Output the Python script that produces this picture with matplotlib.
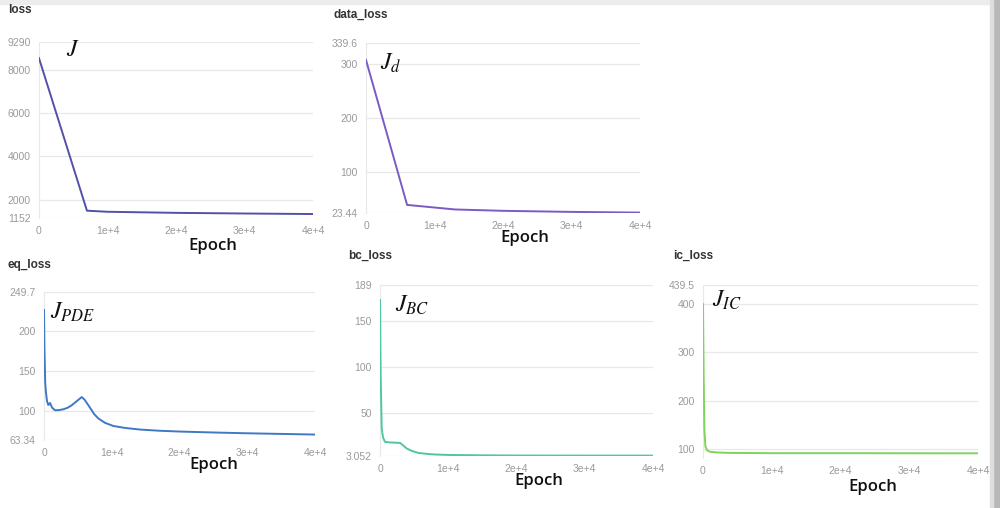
import matplotlib.pyplot as plt
from matplotlib.patches import Rectangle

plt.rcParams['mathtext.fontset'] = 'stix'
plt.rcParams['font.family'] = ['Liberation Sans', 'DejaVu Sans']

# data
loss_x = [0, 7000, 10000, 20000, 30000, 40000]
loss_y = [8540, 1490, 1440, 1390, 1360, 1335]

data_x = [0, 6000, 13000, 20000, 30000, 40000]
data_y = [308, 38.5, 30, 27.5, 25.5, 24.2]

eq_x = [0, 60, 180, 300, 450, 635, 885, 1200, 1620, 2200, 2850, 3500, 4080, 4800,
        5560, 6000, 6790, 7400, 8020, 9000, 10230, 12000, 14170, 17000, 20000,
        25000, 30000, 35000, 40000]
eq_y = [227, 180, 135, 122.5, 112, 107.4, 110, 104, 100.8, 101, 102, 104, 107, 112,
        117.4, 114, 104, 96, 90.5, 85, 81, 78.5, 76.5, 75, 74, 72.8, 71.8, 71, 70.2]

bc_x = [0, 100, 250, 450, 730, 1500, 2930, 3400, 3910, 4700, 5610, 6800, 8060,
        10000, 15000, 20000, 30000, 40000]
bc_y = [172.7, 90, 33, 23, 18.4, 17.8, 17.3, 14.5, 11.2, 8.5, 6.4, 5.4, 4.7,
        4.2, 3.8, 3.6, 3.5, 3.5]

ic_x = [0, 100, 200, 350, 600, 1000, 2000, 4000, 10000, 20000, 30000, 40000]
ic_y = [400, 250, 140, 105, 97, 94, 92.5, 91.5, 91, 91, 90.8, 90.7]

xticks = [0, 10000, 20000, 30000, 40000]
xlabels = ['0', '1e+4', '2e+4', '3e+4', '4e+4']

panels = [
    # name, x, y, color, ylim, yticks, ylabels, math label
    ('loss', loss_x, loss_y, '#5350a8', (1152, 9290),
     [1152, 2000, 4000, 6000, 8000, 9290],
     ['1152', '2000', '4000', '6000', '8000', '9290'], r'$J$'),
    ('data_loss', data_x, data_y, '#7a5bc4', (23.44, 339.6),
     [23.44, 100, 200, 300, 339.6],
     ['23.44', '100', '200', '300', '339.6'], r'$J_d$'),
    ('eq_loss', eq_x, eq_y, '#3f78c4', (63.34, 249.7),
     [63.34, 100, 150, 200, 249.7],
     ['63.34', '100', '150', '200', '249.7'], r'$J_{PDE}$'),
    ('bc_loss', bc_x, bc_y, '#4ec7a2', (3.052, 189),
     [3.052, 50, 100, 150, 189],
     ['3.052', '50', '100', '150', '189'], r'$J_{BC}$'),
    ('ic_loss', ic_x, ic_y, '#7fd45c', (81, 439.5),
     [100, 200, 300, 400, 439.5],
     ['100', '200', '300', '400', '439.5'], r'$J_{IC}$'),
]

# axes boxes in pixels: left, top, right, bottom
boxes = [(39, 42, 313, 218), (366, 43, 640, 213), (44, 292, 315, 440),
         (380, 285, 653, 456), (703, 285, 978, 458)]
title_pos = [(8, 10), (333, 15), (8, 265), (348, 256), (673, 256)]
math_pos = [(66, 50), (380, 63), (50, 312), (395, 305), (712, 300)]
epoch_pos = [(213, 246), (525, 238), (214, 465), (539, 481), (873, 487)]

W, H = 1000, 508
fig = plt.figure(figsize=(10, 5.08), dpi=100)
fig.patches.append(Rectangle((0, 1 - 4 / H), 1, 4 / H, transform=fig.transFigure,
                             color='#ececec', zorder=0))
fig.patches.append(Rectangle((992 / W, 0), 8 / W, 1, transform=fig.transFigure,
                             color='#b8b8b8', zorder=0))
fig.patches.append(Rectangle((990 / W, 0), 3 / W, 1, transform=fig.transFigure,
                             color='#dedede', zorder=0))

for (name, x, y, col, ylim, yt, yl, mlab), (l, t, r, b), tp, mp, ep in zip(
        panels, boxes, title_pos, math_pos, epoch_pos):
    ax = fig.add_axes([l / W, 1 - b / H, (r - l) / W, (b - t) / H])
    ax.plot(x, y, color=col, lw=1.4, zorder=3)
    ax.set_xlim(0, 40000)
    ax.set_ylim(*ylim)
    ax.set_xticks(xticks)
    ax.set_xticklabels(xlabels)
    ax.set_yticks(yt)
    ax.set_yticklabels(yl)
    ax.tick_params(length=0, labelsize=7.5, labelcolor='#9a9a9a', pad=6)
    ax.grid(axis='y', color='#e8e8e8', lw=0.9)
    for s in ['top', 'right', 'bottom']:
        ax.spines[s].set_visible(False)
    ax.spines['left'].set_color('#e8e8e8')
    ax.set_axisbelow(True)

    fig.text(tp[0] / W, 1 - tp[1] / H, name, fontsize=8.5, fontweight='bold',
             color='#333333', ha='left', va='center')
    fig.text(mp[0] / W, 1 - mp[1] / H, mlab, fontsize=17, color='#111111',
             ha='left', va='center')
    fig.text(ep[0] / W, 1 - ep[1] / H, 'Epoch', fontsize=12, fontweight='semibold',
             family=['Open Sans', 'DejaVu Sans'], color='#111111',
             ha='center', va='center')

fig.savefig('out.png', dpi=100, facecolor='white')
